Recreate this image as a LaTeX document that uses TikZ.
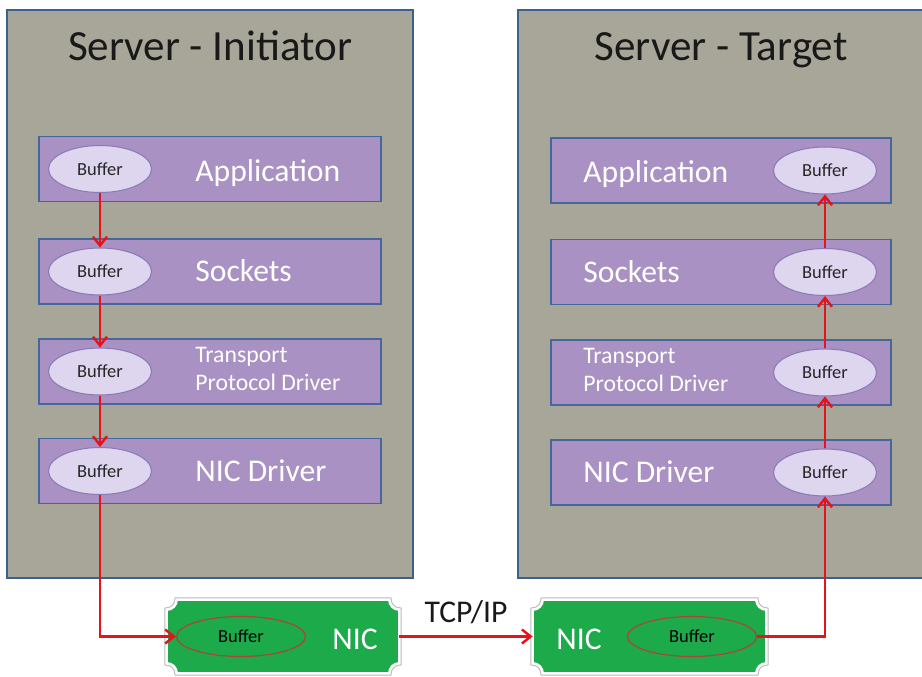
\documentclass[tikz,border=0pt]{standalone}
\usepackage{fontspec}
\setmainfont{Carlito}
\usetikzlibrary{shapes,positioning,arrows,arrows.meta,calc}

\definecolor{srvfill}{HTML}{A8A698}
\definecolor{srvedge}{HTML}{3E608C}
\definecolor{layfill}{HTML}{A992C3}
\definecolor{layedge}{HTML}{46679A}
\definecolor{buffill}{HTML}{DED5EF}
\definecolor{bufedge}{HTML}{8C7AB4}
\definecolor{nicgreen}{HTML}{1DAA4B}
\definecolor{nicring}{HTML}{A5483A}
\definecolor{flowred}{HTML}{E8131A}

% green NIC plate with notched corners, drawn round a named node
\newcommand{\nicplate}[1]{%
  \path[fill=nicgreen, draw=white, line width=1.5pt,
        preaction={draw=gray!55, line width=2.7pt}]
    ($(#1.north west)+(0,-0.2)$) arc[start angle=270, end angle=360, radius=0.2]
    -- ($(#1.north east)+(-0.2,0)$) arc[start angle=180, end angle=270, radius=0.2]
    -- ($(#1.south east)+(0,0.2)$) arc[start angle=90, end angle=180, radius=0.2]
    -- ($(#1.south west)+(0.2,0)$) arc[start angle=0, end angle=90, radius=0.2]
    -- cycle;}

\begin{document}
\begin{tikzpicture}[
  server/.style={draw=srvedge, line width=1.2pt, fill=srvfill, minimum height=11.36cm},
  layer/.style={draw=layedge, line width=1.1pt, fill=layfill, minimum height=1.3cm},
  buffer/.style={ellipse, draw=bufedge, line width=0.6pt, fill=buffill, minimum width=2.06cm,
    minimum height=0.94cm, inner sep=0pt, text=black!85, font=\fontsize{10.5}{12}\selectfont},
  nicbuf/.style={ellipse, draw=nicring, line width=0.7pt, minimum width=2.58cm,
    minimum height=0.8cm, inner sep=0pt, text=black, font=\fontsize{10.5}{12}\selectfont},
  lbl/.style={anchor=west, inner sep=0pt, text=white, text height=11.6pt, text depth=0pt,
    font=\fontsize{18}{20}\selectfont},
  smalllbl/.style={anchor=west, inner sep=0pt, text=white, align=left,
    font=\fontsize{13.5}{16}\selectfont},
  title/.style={text height=15.8pt, text depth=0pt, font=\fontsize{24.5}{28}\selectfont, text=black!90},
  nicholder/.style={minimum width=#1, minimum height=1.46cm, inner sep=0pt},
  flow/.style={-{Straight Barb[length=5pt, width=8pt]}, draw=flowred, line width=1.4pt}
]
\useasboundingbox (0,0) rectangle (18.44,-13.54);

% the two servers
\node[server, minimum width=8.12cm] (initiator) at (4.2,-5.88) {};
\node[server, minimum width=8.24cm] (target) at (14.48,-5.88) {};
\node[title] (ititle) at (4.2,-0.94) {Server - Initiator};
\node[title] (ttitle) at (14.42,-0.94) {Server - Target};

% initiator stack
\node[layer, minimum width=6.84cm] (iapp) at (4.2,-3.38) {};
\node[layer, minimum width=6.84cm] (isock) at (4.2,-5.43) {};
\node[layer, minimum width=6.84cm] (itrans) at (4.2,-7.43) {};
\node[layer, minimum width=6.84cm] (inicdrv) at (4.2,-9.42) {};
\node[lbl] (iapplbl) at (3.9,-3.42) {Application};
\node[lbl] (isocklbl) at (3.9,-5.43) {Sockets};
\node[smalllbl] (itranslbl) at (3.9,-7.38) {Transport\\Protocol Driver};
\node[lbl] (inicdrvlbl) at (3.9,-9.42) {NIC Driver};
\node[buffer] (ibufapp) at (2.0,-3.38) {Buffer};
\node[buffer] (ibufsock) at (2.0,-5.43) {Buffer};
\node[buffer] (ibuftrans) at (2.0,-7.43) {Buffer};
\node[buffer] (ibufnic) at (2.0,-9.42) {Buffer};

% target stack
\node[layer, minimum width=6.8cm] (tapp) at (14.42,-3.41) {};
\node[layer, minimum width=6.8cm] (tsock) at (14.42,-5.44) {};
\node[layer, minimum width=6.8cm] (ttrans) at (14.42,-7.45) {};
\node[layer, minimum width=6.8cm] (tnicdrv) at (14.42,-9.45) {};
\node[lbl] (tapplbl) at (11.66,-3.44) {Application};
\node[lbl] (tsocklbl) at (11.66,-5.44) {Sockets};
\node[smalllbl] (ttranslbl) at (11.66,-7.40) {Transport\\Protocol Driver};
\node[lbl] (tnicdrvlbl) at (11.66,-9.45) {NIC Driver};
\node[buffer] (tbufapp) at (16.5,-3.41) {Buffer};
\node[buffer] (tbufsock) at (16.5,-5.44) {Buffer};
\node[buffer] (tbuftrans) at (16.5,-7.45) {Buffer};
\node[buffer] (tbufnic) at (16.5,-9.45) {Buffer};

% the two NICs
\node[nicholder=4.64cm] (inic) at (5.66,-12.73) {};
\nicplate{inic}
\node[nicholder=4.66cm] (tnic) at (12.99,-12.73) {};
\nicplate{tnic}
\node[nicbuf] (inicbuf) at (4.82,-12.73) {Buffer};
\node[lbl, anchor=center] (iniclbl) at (7.1,-12.78) {NIC};
\node[nicbuf] (tnicbuf) at (13.84,-12.73) {Buffer};
\node[lbl, anchor=center] (tniclbl) at (11.58,-12.78) {NIC};
\node[font=\fontsize{18}{20}\selectfont, text=black!90] (tcp) at (9.32,-12.24) {TCP/IP};

% data path
\draw[flow] (ibufapp) -- (ibufsock);
\draw[flow] (ibufsock) -- (ibuftrans);
\draw[flow] (ibuftrans) -- (ibufnic);
\draw[flow] (ibufnic) |- (inicbuf);
\draw[flow] (inic) -- (tnic);
\draw[flow] (tnicbuf) -| (tbufnic);
\draw[flow] (tbufnic) -- (tbuftrans);
\draw[flow] (tbuftrans) -- (tbufsock);
\draw[flow] (tbufsock) -- (tbufapp);
\end{tikzpicture}
\end{document}
